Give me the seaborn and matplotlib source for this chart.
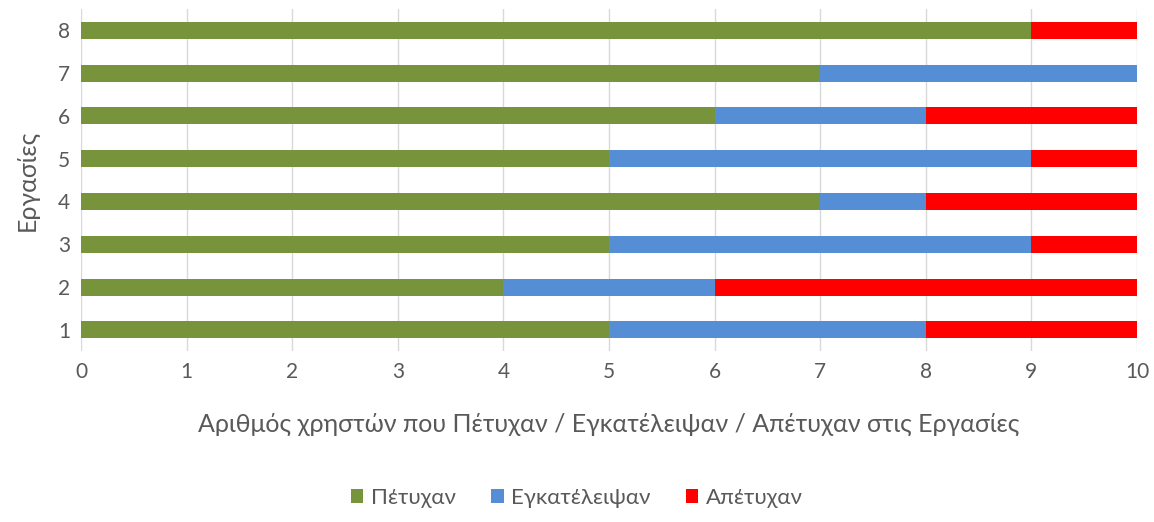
import matplotlib
matplotlib.use("Agg")
import matplotlib.pyplot as plt
import seaborn as sns
import pandas as pd
import numpy as np
from matplotlib.patches import Patch

tasks = ["1", "2", "3", "4", "5", "6", "7", "8"]
succeeded = [5, 4, 5, 7, 5, 6, 7, 9]
abandoned = [3, 2, 4, 1, 4, 2, 3, 0]
failed = [2, 4, 1, 2, 1, 2, 0, 1]
series_names = ["Πέτυχαν", "Εγκατέλειψαν", "Απέτυχαν"]
colors = ["#77933C", "#558ED5", "#FF0000"]

sns.set_theme(style="white")
plt.rcParams['font.family'] = ['Lato', 'DejaVu Sans']

df = pd.DataFrame({"task": tasks, "s": succeeded, "a": abandoned, "f": failed})
df["c1"] = df["s"]
df["c2"] = df["s"] + df["a"]
df["c3"] = df["s"] + df["a"] + df["f"]
order = tasks[::-1]

fig = plt.figure(figsize=(11.54, 5.22), dpi=100)
ax = fig.add_axes([0.0702, 0.327, 0.915, 0.656])

for col, c in zip(["c3", "c2", "c1"], colors[::-1]):
    sns.barplot(data=df, x=col, y="task", order=order, orient="h", color=c,
                width=0.4, saturation=1, ax=ax, edgecolor="none", zorder=3)

ax.set_xlim(0, 10)
ax.set_xticks(range(0, 11))
ax.grid(axis="x", color="#D9D9D9", linewidth=1, zorder=0)
ax.set_axisbelow(True)
for sp in ax.spines.values():
    sp.set_visible(False)
ax.tick_params(axis="both", length=0, labelsize=15, colors="#595959", pad=8)
ax.set_xlabel("Αριθμός χρηστών που Πέτυχαν / Εγκατέλειψαν / Απέτυχαν στις Εργασίες",
              fontsize=18, color="#595959", labelpad=22)
ax.set_ylabel("Εργασίες", fontsize=18, color="#595959", labelpad=14)

handles = [Patch(facecolor=c, edgecolor="none", label=n) for c, n in zip(colors, series_names)]
fig.legend(handles=handles, loc="center", bbox_to_anchor=(0.5, 0.046), ncol=3, frameon=False,
           fontsize=16, handlelength=0.55, handleheight=0.55, handletextpad=0.35, columnspacing=1.6,
           labelcolor="#595959")

fig.savefig("out.png", dpi=100)
